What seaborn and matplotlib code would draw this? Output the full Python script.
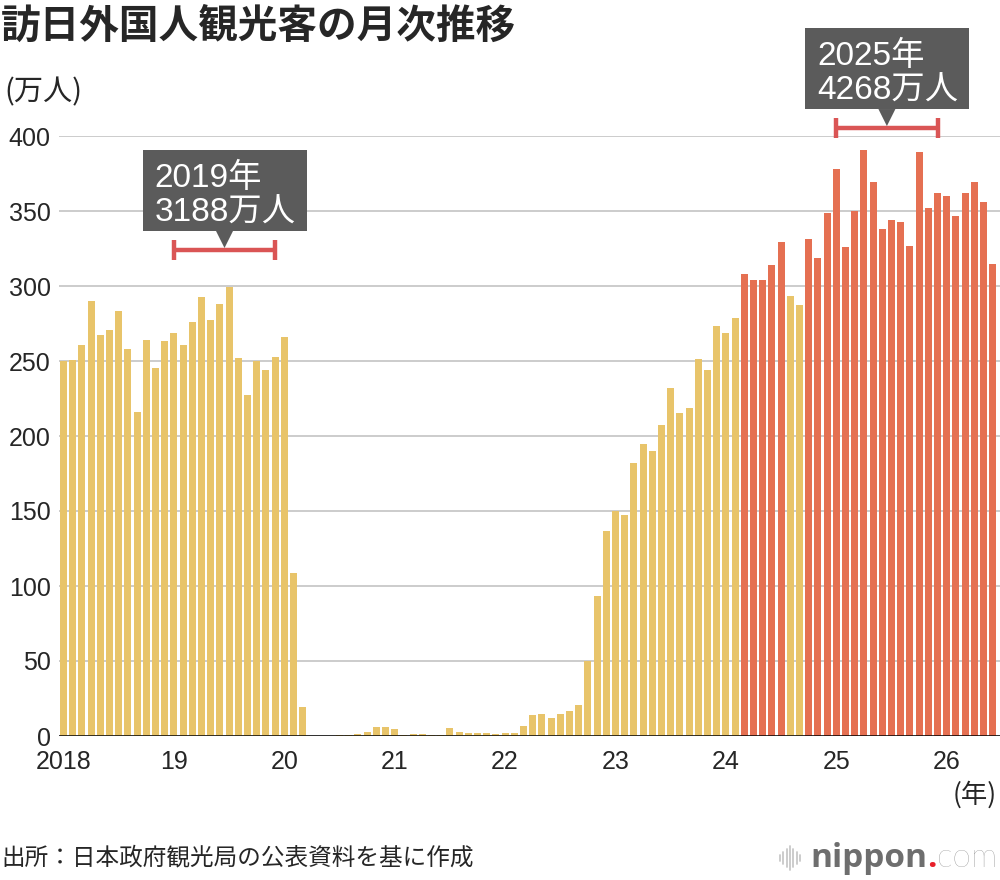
import numpy as np
import pandas as pd
import matplotlib
matplotlib.use("Agg")
import matplotlib.pyplot as plt
from matplotlib.patches import Rectangle, Polygon
from matplotlib.lines import Line2D
import seaborn as sns

# ---------------- data (万人, monthly) ----------------
v2018 = [250.2, 250.9, 260.8, 290.1, 267.5, 270.5, 283.2, 257.8, 215.9, 264.1, 245.3, 263.2]
v2019 = [268.9, 260.4, 276.0, 292.7, 277.3, 288.0, 299.1, 252.0, 227.3, 249.7, 244.1, 252.6]
v2020 = [266.1, 108.5, 19.4, 0.3, 0.2, 0.3, 0.4, 0.9, 1.4, 2.8, 5.7, 5.9]
v2021 = [4.6, 0.7, 1.2, 1.1, 1.0, 1.0, 5.2, 2.6, 1.8, 2.2, 2.1, 1.2]
v2022 = [1.7, 1.7, 6.6, 13.9, 14.7, 12.0, 14.4, 16.9, 20.7, 49.9, 93.4, 137.0]
v2023 = [149.7, 147.6, 181.8, 194.9, 189.9, 207.3, 232.0, 215.6, 218.4, 251.6, 244.1, 273.4]
v2024 = [268.8, 278.8, 308.2, 304.2, 304.0, 314.0, 329.3, 293.3, 287.2, 331.2, 318.9, 349.0]
v2025 = [378.1, 325.8, 349.8, 390.9, 369.3, 337.8, 343.7, 342.8, 326.7, 389.6, 351.8, 361.7]
v2026 = [360.0, 347.0, 362.0, 369.5, 356.0, 315.0]

year_labels = ["2018", "19", "20", "21", "22", "23", "24", "25", "26"]
y_ticks = [0, 50, 100, 150, 200, 250, 300, 350, 400]
threshold = 300  # months above the 2019 record level are highlighted

ann_2019_lines = ["2019年", "3188万人"]
ann_2025_lines = ["2025年", "4268万人"]

title = "訪日外国人観光客の月次推移"
unit_label = "(万人)"
year_unit = "(年)"
source = "出所：日本政府観光局の公表資料を基に作成"

# ---------------- styling ----------------
YELLOW = "#E8C46A"
RED = "#E57052"
BRACKET = "#DA5555"
BOXGREY = "#5B5B5B"
GRID = "#CCCCCC"

sns.set_theme(style="white")
plt.rcParams["font.family"] = ["Liberation Sans", "Noto Sans CJK JP", "DejaVu Sans"]
JP = ["Noto Sans CJK JP", "DejaVu Sans"]
NUMJP = ["Liberation Sans", "Noto Sans CJK JP", "DejaVu Sans"]

values = v2018 + v2019 + v2020 + v2021 + v2022 + v2023 + v2024 + v2025 + v2026
n = len(values)
df = pd.DataFrame({
    "idx": np.arange(n),
    "value": values,
})
df["group"] = np.where(df["value"] >= threshold, "high", "normal")

W, H = 1000, 880
fig = plt.figure(figsize=(W / 100, H / 100), dpi=100)
fig.patch.set_facecolor("white")

# axes placed to match pixel layout
ax_left, ax_right, ax_top, ax_bottom = 59, 1000, 136, 736
ax = fig.add_axes([ax_left / W, 1 - ax_bottom / H, (ax_right - ax_left) / W, (ax_bottom - ax_top) / H])

sns.barplot(data=df, x="idx", y="value", hue="group",
            palette={"high": RED, "normal": YELLOW},
            dodge=False, width=0.75, legend=False, ax=ax,
            edgecolor="none", saturation=1)

ax.set_xlim(-0.49, -0.49 + (ax_right - ax_left) / 9.2)
ax.set_ylim(0, 400)
ax.set_axisbelow(True)
ax.yaxis.grid(True, color=GRID, linewidth=1.4)
ax.xaxis.grid(False)
for s in ax.spines.values():
    s.set_visible(False)
ax.axhline(0, color="black", linewidth=1.8, zorder=5)

ax.set_yticks(y_ticks)
ax.set_yticklabels([str(t) for t in y_ticks], fontsize=18, family=NUMJP)
ax.set_xticks(np.arange(0, n, 12))
ax.set_xticklabels(year_labels, fontsize=18, family=NUMJP)
ax.tick_params(axis="y", length=0, pad=6)
ax.tick_params(axis="x", length=0, pad=10)
ax.set_xlabel("")
ax.set_ylabel("")

# ---------------- annotations ----------------
PX_PER_UNIT_Y = (ax_bottom - ax_top) / 400.0
PX_PER_UNIT_X = 9.2


def annotate(start, end, bracket_y, lines):
    c = (start + end) / 2
    py = lambda px: px / PX_PER_UNIT_Y
    pxu = lambda px: px / PX_PER_UNIT_X
    # bracket
    ax.plot([start, end], [bracket_y, bracket_y], color=BRACKET, lw=3.2,
            solid_capstyle="butt", clip_on=False, zorder=6)
    for xx in (start, end):
        ax.plot([xx, xx], [bracket_y - py(10), bracket_y + py(10)], color=BRACKET,
                lw=3.2, solid_capstyle="butt", clip_on=False, zorder=6)
    apex = bracket_y + py(2)
    bottom = apex + py(17)
    top = bottom + py(81)
    half = pxu(82)
    ax.add_patch(Rectangle((c - half, bottom), 2 * half, top - bottom, facecolor=BOXGREY,
                           edgecolor="none", clip_on=False, zorder=7))
    ax.add_patch(Polygon([[c - pxu(8.5), bottom + 0.01], [c + pxu(8.5), bottom + 0.01], [c, apex]],
                         closed=True, facecolor=BOXGREY, edgecolor="none", clip_on=False, zorder=7))
    tx = c - half + pxu(12)
    ax.text(tx, top - py(37), lines[0], color="white", fontsize=24, family=NUMJP,
            ha="left", va="baseline", zorder=8, clip_on=False)
    ax.text(tx, top - py(72), lines[1], color="white", fontsize=24, family=NUMJP,
            ha="left", va="baseline", zorder=8, clip_on=False)


annotate(12, 23, 324, ann_2019_lines)
annotate(84, 95, 405.3, ann_2025_lines)

# ---------------- figure texts ----------------
fx = lambda x: x / W
fy = lambda y: 1 - y / H

fig.text(fx(1), fy(26), title, fontsize=28.5, fontweight="bold", family=JP, ha="left", va="center")
fig.text(fx(4), fy(92), unit_label, fontsize=21, family=JP, ha="left", va="center")
fig.text(fx(997), fy(795), year_unit, fontsize=19, family=JP, ha="right", va="center")
fig.text(fx(1), fy(858), source, fontsize=17, family=JP, ha="left", va="center")

# nippon.com logo (text + small bar icon), laid out right-to-left from the right edge
fig.canvas.draw()
r = fig.canvas.get_renderer()
LOGO_FS = 24
t3 = fig.text(fx(997), fy(858), "com", fontsize=LOGO_FS, fontweight="light", color="#8A8A8A",
              family=["Lato", "Open Sans", "DejaVu Sans"], ha="right", va="center")
bb3 = t3.get_window_extent(renderer=r)
t2 = fig.text(bb3.x0 / W, fy(858), ".", fontsize=LOGO_FS, fontweight="bold", color="#E8202A",
              family=["Open Sans", "DejaVu Sans"], ha="right", va="center")
bb2 = t2.get_window_extent(renderer=r)
t1 = fig.text(bb2.x0 / W, fy(858), "nippon", fontsize=LOGO_FS, fontweight="bold", color="#6E6E6E",
              family=["Open Sans", "DejaVu Sans"], ha="right", va="center")
bb1 = t1.get_window_extent(renderer=r)
icon_h = [6, 12, 18, 24, 18, 12, 6]
icon_right = bb1.x0 - 10
for i, h in enumerate(icon_h):
    xpx = icon_right - (len(icon_h) - 1 - i) * 3.4
    x = fx(xpx)
    fig.add_artist(Line2D([x, x], [fy(858 + h / 2), fy(858 - h / 2)], color="#C8C8C8", lw=1.3))

fig.savefig("out.png", dpi=100, facecolor="white")
